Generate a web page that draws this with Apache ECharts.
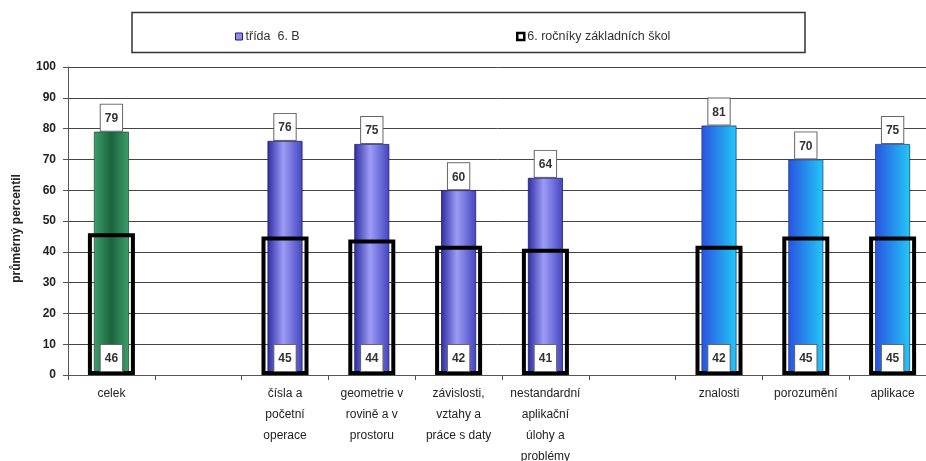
<!DOCTYPE html>
<html>
<head>
<meta charset="utf-8">
<script src="https://cdn.jsdelivr.net/npm/echarts@6/dist/echarts.min.js"></script>
<style>html,body{margin:0;padding:0;background:#fff;}#c{width:926px;height:461px;}</style>
</head>
<body>
<div id="c"></div>
<script>
const categories = ['celek', '', 'čísla a\npočetní\noperace', 'geometrie v\nrovině a v\nprostoru', 'závislosti,\nvztahy a\npráce s daty', 'nestandardní\naplikační\núlohy a\nproblémy', '', 'znalosti', 'porozumění', 'aplikace'];
const classValues = [79, null, 76, 75, 60, 64, null, 81, 70, 75];
const nationalValues = [46, null, 45, 44, 42, 41, null, 42, 45, 45];
const yTicks = [0, 10, 20, 30, 40, 50, 60, 70, 80, 90, 100];
const seriesNames = ['třída  6. B', '6. ročníky základních škol'];

const FONT = 'Liberation Sans, Arial, sans-serif';
function lin(stops) {
  return {type: 'linear', x: 0, y: 0, x2: 1, y2: 0, colorStops: stops.map(c => ({offset: c[0], color: c[1]}))};
}
const greenFill = lin([[0, '#3c9f6b'], [0.5, '#1b643d'], [1, '#3c9f6b']]);
const purpleFill = lin([[0, '#2c2ca2'], [0.45, '#9c9cf6'], [1, '#4444c0']]);
const blueFill = lin([[0, '#2a52e0'], [1, '#22c8f6']]);
const styleFor = i => {
  if (i === 0) return {color: greenFill, borderColor: '#1f5a38', borderWidth: 0.8};
  if (i >= 7) return {color: blueFill, borderColor: '#1d3f8a', borderWidth: 0.8};
  return {color: purpleFill, borderColor: '#20206a', borderWidth: 0.8};
};

const labelBox = {
  show: true, color: '#333', fontFamily: FONT, fontSize: 12, fontWeight: 'bold',
  backgroundColor: '#fff', borderColor: '#666', borderWidth: 1, padding: [8, 4, 6, 4]
};

const chart = echarts.init(document.getElementById('c'));
chart.setOption({
  animation: false,
  textStyle: {fontFamily: FONT},
  graphic: [{type: 'rect', shape: {x: 132, y: 12.5, width: 673, height: 40}, style: {fill: 'none', stroke: '#333', lineWidth: 1.5}, z: 10}],
  legend: [
    {data: [{name: seriesNames[0], itemStyle: {color: '#8c8cf0', borderColor: '#20206a', borderWidth: 1}}], left: 230, top: 25, itemWidth: 7, itemHeight: 7, itemGap: 3,
     textStyle: {fontFamily: FONT, fontSize: 12.5, color: '#333', padding: [0, 0, 0, -2]}, icon: 'rect', selectedMode: false},
    {data: [{name: seriesNames[1], itemStyle: {color: '#fff', borderColor: '#000', borderWidth: 2.5}}], left: 511, top: 25, itemWidth: 7, itemHeight: 7,
     textStyle: {fontFamily: FONT, fontSize: 12.5, color: '#333', padding: [0, 0, 0, -2]}, icon: 'rect', selectedMode: false}
  ],
  grid: {left: 68, top: 67, width: 868, height: 308, containLabel: false, outerBoundsMode: 'none'},
  xAxis: [
    {type: 'category', data: categories, boundaryGap: true,
     axisLine: {lineStyle: {color: '#555', width: 1}},
     axisTick: {show: true, alignWithLabel: false, length: 5, lineStyle: {color: '#555'}},
     axisLabel: {interval: 0, color: '#222', fontFamily: FONT, fontSize: 12, lineHeight: 21, margin: 8}},
    {type: 'category', data: categories, show: false}
  ],
  yAxis: {
    type: 'value', min: yTicks[0], max: yTicks[yTicks.length - 1], interval: 10,
    name: 'průměrný percentil', nameLocation: 'middle', nameGap: 45, nameRotate: 90,
    nameTextStyle: {fontFamily: FONT, fontSize: 12, fontWeight: 'bold', color: '#222', padding: [0, 0, 0, -15]},
    axisLine: {show: true, lineStyle: {color: '#555'}},
    axisTick: {show: true, length: 5, inside: false, lineStyle: {color: '#555'}},
    axisLabel: {color: '#222', fontFamily: FONT, fontSize: 12, fontWeight: 'bold', margin: 12},
    splitLine: {lineStyle: {color: '#444', width: 1}}
  },
  series: [
    {name: seriesNames[0], type: 'bar', xAxisIndex: 0, barWidth: 35,
     data: classValues.map((v, i) => v == null ? '-' : {value: v, itemStyle: styleFor(i)}),
     itemStyle: {color: '#8c8cf0'},
     label: Object.assign({}, labelBox, {position: 'top', distance: 1}), z: 2},
    {name: seriesNames[1], type: 'bar', xAxisIndex: 1, barWidth: 47,
     data: nationalValues.map(v => v == null ? '-' : v),
     itemStyle: {color: 'rgba(0,0,0,0)', borderColor: '#000', borderWidth: 4},
     label: Object.assign({}, labelBox, {position: 'insideBottom', distance: 4}), z: 3}
  ]
});
</script>
</body>
</html>
